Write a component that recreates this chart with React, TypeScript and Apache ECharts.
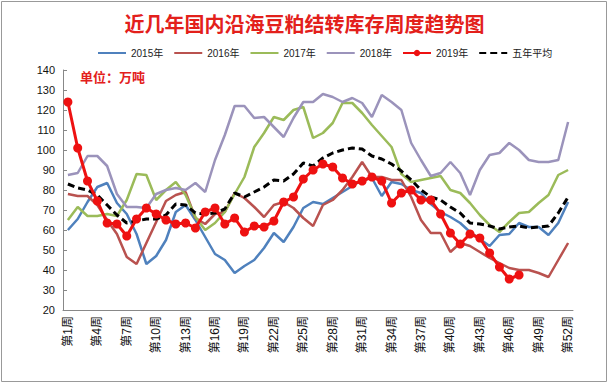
import React, { useEffect, useRef } from "react";
import * as echarts from "echarts";

const weeks: string[] = [];
for (let i = 1; i <= 52; i++) weeks.push(`第${i}周`);

const yTicks = { min: 20, max: 140, interval: 10 };

const s2015 = [60,65.5,74,81.5,83.5,73.5,68,58,43,47,55,69,72.5,65,56.5,48,45,38.5,42,45,51,58.5,54,61.5,71,74,73,76,79,82,85,86,77,84,83,80,78.5,73,69,66.5,63.5,59,55.5,52,57.5,58,63.5,61.5,61.5,57.5,63.5,74];
const s2016 = [78,77,77,72.5,65,58,46.5,43,53.5,64,74.5,77.5,79,66,63,68,69,78.5,76,71.5,66.5,72.5,74,71,66,62,72.5,75,80,86.5,94,86.5,86.5,85,85,76.5,65,58.5,58.5,49,53.5,52,49,46,43.5,41,40,40,38.5,36.5,45,53.5];
const s2017 = [65,71.5,67,67,68,67,75,88,87.5,75,80,84,77.5,66.5,60,63.5,69,78,86.5,101.5,108.5,116.5,115,120,121.5,106,108.5,113.5,123.5,123.5,118.5,112.5,107,101.5,88,84,85,86,87,80,78.5,73.5,67.5,62.5,59,64,68.5,69,73.5,77.5,87.5,90];
const s2018 = [87.5,88.5,97,97,92,78,71.5,71.5,71,78,80,81,80,83.5,79,95,107.5,122,122,116,116.5,111.5,106.5,116,124,124,128,126.5,124,126,123.5,116.5,127.5,124,120,103.5,95,87,88.5,94,88.5,77.5,90,97.5,98.5,103.5,100,95,94,94,95,114];
const s2019 = [124,101,84.5,74.5,63.5,63,57,65.5,71,68,65,63,63.5,61,69,71,63,66,59,62,61.5,64.5,74,76.5,85.5,90,93,91.5,86,83,84.5,86.5,84.5,73.5,78.5,80,75,75,68,58.5,53,58,56,48.5,41.5,35.5,37.5];
const sAvg = [83,81,80,77.5,72.5,67.5,63.5,64.5,65.5,65.5,67.5,73,72.5,68.5,68,68.5,70.5,78.5,76.5,79,81.5,85,84.5,88,93.5,92,96,98.5,100,101,100.5,97,95.5,93,89.5,85,80,76.5,75,71.5,68.5,63.5,63,62,60.5,61.5,62,61,61.5,62,68.5,76.5];

const names = ["2015年", "2016年", "2017年", "2018年", "2019年", "五年平均"];

export default function App() {
  const ref = useRef<HTMLDivElement>(null);
  useEffect(() => {
    const chart = echarts.init(ref.current!, null, { renderer: "svg" });
    const lineSeries = (name: string, data: number[], color: string, z: number) => ({
      name,
      type: "line",
      data,
      symbol: "none",
      z,
      lineStyle: { color, width: 2.5 },
      itemStyle: { color },
    });
    chart.setOption({
      animation: false,
      backgroundColor: "#fff",
      title: {
        text: "近几年国内沿海豆粕结转库存周度趋势图",
        left: "center",
        top: 8,
        textStyle: {
          color: "#E3201B",
          fontSize: 20,
          fontWeight: "bold",
          fontFamily: "Noto Sans CJK SC",
        },
      },
      legend: {
        data: names.map((n) =>
          n === "2019年" ? { name: n } : { name: n, itemStyle: { opacity: 0 } }
        ),
        left: 92,
        top: 43,
        itemWidth: 28,
        itemHeight: 8,
        itemGap: 10,
        textStyle: { fontSize: 10, color: "#222", fontFamily: "Liberation Sans, Noto Sans CJK SC" },
      },
      grid: { left: 63, right: 36, top: 70, bottom: 74 },
      xAxis: {
        type: "category",
        data: weeks,
        boundaryGap: true,
        axisLine: { lineStyle: { color: "#888", width: 1 } },
        axisTick: { inside: true, interval: 0, length: 4, lineStyle: { color: "#888" } },
        axisLabel: {
          interval: 2,
          rotate: 90,
          fontSize: 12,
          color: "#111",
          margin: 6,
          fontFamily: "Liberation Sans, Noto Sans CJK SC",
        },
        splitLine: { show: false },
      },
      yAxis: {
        type: "value",
        min: yTicks.min,
        max: yTicks.max,
        interval: yTicks.interval,
        axisLine: { show: true, lineStyle: { color: "#888", width: 1 } },
        axisTick: { show: true, inside: true, length: 4, lineStyle: { color: "#888" } },
        axisLabel: { fontSize: 11, color: "#111", margin: 8, fontFamily: "Liberation Sans, sans-serif" },
        splitLine: { show: false },
      },
      graphic: [
        {
          type: "rect",
          shape: { x: 1.5, y: 1.5, width: 605, height: 380 },
          style: { fill: "none", stroke: "#999", lineWidth: 1 },
          silent: true,
        },
        {
          type: "text",
          x: 80,
          y: 70,
          style: {
            text: "单位：万吨",
            fill: "#E3201B",
            fontSize: 13,
            fontWeight: "bold",
            fontFamily: "Noto Sans CJK SC",
          },
        },
      ],
      series: [
        lineSeries("2015年", s2015, "#4F81BD", 2),
        lineSeries("2016年", s2016, "#B9524F", 2),
        lineSeries("2017年", s2017, "#9BBB59", 2),
        lineSeries("2018年", s2018, "#9B93BB", 2),
        {
          name: "2019年",
          type: "line",
          data: s2019,
          symbol: "circle",
          symbolSize: 9,
          showAllSymbol: true,
          z: 4,
          lineStyle: { color: "#EE1111", width: 3 },
          itemStyle: { color: "#EE1111" },
        },
        {
          name: "五年平均",
          type: "line",
          data: sAvg,
          symbol: "none",
          z: 3,
          lineStyle: { color: "#000", width: 3, type: [7, 4] },
          itemStyle: { color: "#000" },
        },
      ],
    });
    return () => chart.dispose();
  }, []);
  return (
    <div
      ref={ref}
      style={{ position: "fixed", left: 0, top: 0, width: 609, height: 384 }}
    />
  );
}
